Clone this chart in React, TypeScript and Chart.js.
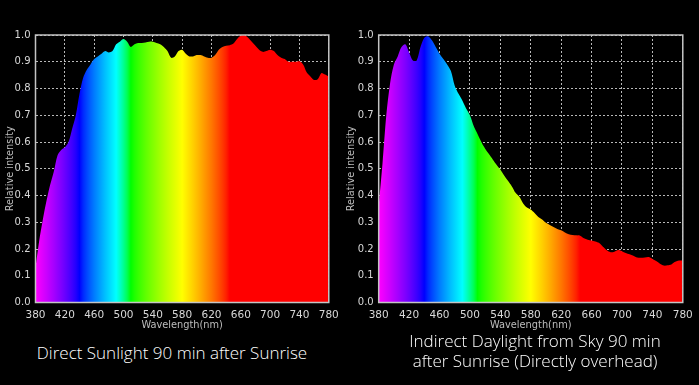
import React, { useEffect, useRef } from "react";
import { Chart, registerables } from "chart.js";

Chart.register(...registerables);

const wavelengths = [
  380, 385, 390, 395, 400, 405, 410, 415, 420, 425, 430, 435, 440, 445, 450, 455, 460, 465, 470, 475,
  480, 485, 490, 495, 500, 505, 510, 515, 520, 525, 530, 535, 540, 545, 550, 555, 560, 565, 570, 575,
  580, 585, 590, 595, 600, 605, 610, 615, 620, 625, 630, 635, 640, 645, 650, 655, 660, 665, 670, 675,
  680, 685, 690, 695, 700, 705, 710, 715, 720, 725, 730, 735, 740, 745, 750, 755, 760, 765, 770, 775, 780,
];

const directSunlight = [
  0.13, 0.23, 0.31, 0.38, 0.44, 0.49, 0.55, 0.57, 0.58, 0.6, 0.65, 0.7, 0.78, 0.84, 0.87, 0.89, 0.91, 0.92, 0.93, 0.94,
  0.935, 0.94, 0.965, 0.975, 0.985, 0.975, 0.955, 0.965, 0.97, 0.97, 0.972, 0.975, 0.975, 0.97, 0.965, 0.955, 0.94, 0.915, 0.92, 0.94,
  0.945, 0.93, 0.92, 0.92, 0.925, 0.925, 0.92, 0.915, 0.915, 0.925, 0.945, 0.955, 0.96, 0.962, 0.968, 0.985, 0.998, 1.0, 0.99, 0.975,
  0.96, 0.945, 0.937, 0.94, 0.945, 0.94, 0.925, 0.915, 0.91, 0.9, 0.9, 0.9, 0.902, 0.89, 0.86, 0.845, 0.832, 0.835, 0.858, 0.852, 0.845,
];

const indirectSky = [
  0.36, 0.52, 0.7, 0.82, 0.89, 0.92, 0.955, 0.965, 0.935, 0.905, 0.905, 0.955, 0.99, 0.995, 0.98, 0.955, 0.93, 0.91, 0.89, 0.865,
  0.81, 0.78, 0.755, 0.725, 0.7, 0.66, 0.63, 0.6, 0.575, 0.555, 0.535, 0.515, 0.497, 0.475, 0.455, 0.435, 0.41, 0.395, 0.37, 0.355,
  0.348, 0.335, 0.32, 0.31, 0.298, 0.29, 0.282, 0.275, 0.27, 0.262, 0.255, 0.252, 0.251, 0.25, 0.24, 0.235, 0.232, 0.228, 0.222, 0.208,
  0.195, 0.188, 0.19, 0.196, 0.192, 0.185, 0.18, 0.175, 0.168, 0.167, 0.168, 0.17, 0.163, 0.155, 0.145, 0.138, 0.139, 0.142, 0.152, 0.157, 0.157,
];

const xTicks = [380, 420, 460, 500, 540, 580, 620, 660, 700, 740, 780];
const yTicks = [0, 0.1, 0.2, 0.3, 0.4, 0.5, 0.6, 0.7, 0.8, 0.9, 1.0];

const captionLeft = ["Direct Sunlight 90 min after Sunrise"];
const captionRight = ["Indirect Daylight from Sky 90 min", "after Sunrise (Directly overhead)"];

const AXIS_FONT = "'DejaVu Sans', Verdana, sans-serif";

function wlColor(w: number): string {
  let r = 0, g = 0, b = 0;
  if (w < 440) { r = (440 - w) / 60; g = 0; b = 1; }
  else if (w < 490) { r = 0; g = (w - 440) / 50; b = 1; }
  else if (w < 510) { r = 0; g = 1; b = (510 - w) / 20; }
  else if (w < 580) { r = (w - 510) / 70; g = 1; b = 0; }
  else if (w < 645) { r = 1; g = (645 - w) / 65; b = 0; }
  else { r = 1; g = 0; b = 0; }
  const f = (v: number) => Math.round(255 * Math.pow(v, 0.8));
  return `rgb(${f(r)},${f(g)},${f(b)})`;
}

const framePlugin = {
  id: "frame",
  afterDatasetsDraw(chart: any) {
    const { ctx, chartArea } = chart;
    ctx.save();
    ctx.strokeStyle = "#c4c4c4";
    ctx.lineWidth = 1.5;
    ctx.strokeRect(chartArea.left, chartArea.top, chartArea.right - chartArea.left, chartArea.bottom - chartArea.top);
    ctx.restore();
  },
};

type PanelProps = {
  values: number[];
  width: number;
  height: number;
  yAxisWidth: number;
  padRight: number;
  yTitlePad: number;
};

function SpectrumChart({ values, width, height, yAxisWidth, padRight, yTitlePad }: PanelProps) {
  const ref = useRef<HTMLCanvasElement | null>(null);
  useEffect(() => {
    if (!ref.current) return;
    const plotBottom = 302.5;
    const chart = new Chart(ref.current, {
      type: "line",
      data: {
        datasets: [
          {
            data: wavelengths.map((w, i) => ({ x: w, y: values[i] })),
            fill: "origin",
            borderColor: "rgba(0,0,0,0)",
            borderWidth: 0,
            pointRadius: 0,
            tension: 0.3,
            backgroundColor: (c: any) => {
              const area = c.chart.chartArea;
              if (!area) return "#f00";
              const g = c.chart.ctx.createLinearGradient(area.left, 0, area.right, 0);
              for (let w = 380; w <= 780; w += 5) {
                g.addColorStop((w - 380) / 400, wlColor(w));
              }
              return g;
            },
          },
        ],
      },
      options: {
        responsive: false,
        animation: false,
        devicePixelRatio: 1,
        layout: { padding: { top: 35, right: padRight, left: 0, bottom: 0 } },
        plugins: { legend: { display: false }, tooltip: { enabled: false } },
        scales: {
          x: {
            type: "linear",
            min: 380,
            max: 780,
            afterBuildTicks: (s: any) => { s.ticks = xTicks.map((v) => ({ value: v })); },
            afterFit: (s: any) => { s.height = height - plotBottom; },
            ticks: {
              color: "#d8d8d8",
              font: { family: AXIS_FONT, size: 10.5 },
              padding: 6.2,
              maxRotation: 0,
              autoSkip: false,
            },
            grid: { color: "#b8b8b8", drawTicks: false, lineWidth: 1 },
            border: { display: false, dash: [2, 2] },
            title: {
              display: true,
              text: "Wavelength(nm)",
              color: "#bdbdbd",
              font: { family: AXIS_FONT, size: 9.8 },
              padding: { top: 0, bottom: 3.6 },
            },
          },
          y: {
            type: "linear",
            min: 0,
            max: 1,
            afterBuildTicks: (s: any) => { s.ticks = yTicks.map((v) => ({ value: v })); },
            afterFit: (s: any) => { s.width = yAxisWidth; },
            ticks: {
              color: "#d8d8d8",
              font: { family: AXIS_FONT, size: 10 },
              padding: 5,
              callback: (v: any) => Number(v).toFixed(1),
            },
            grid: { color: "#b8b8b8", drawTicks: false, lineWidth: 1 },
            border: { display: false, dash: [2, 2] },
            title: {
              display: true,
              text: "Relative intensity",
              color: "#bdbdbd",
              font: { family: AXIS_FONT, size: 9.8 },
              padding: { top: yTitlePad, bottom: 0 },
            },
          },
        },
      },
      plugins: [framePlugin],
    } as any);
    return () => chart.destroy();
  }, [values, width, height, yAxisWidth, padRight, yTitlePad]);
  return <canvas ref={ref} width={width} height={height} style={{ display: "block", width, height }} />;
}

const captionStyle: React.CSSProperties = {
  position: "absolute",
  color: "#ffffff",
  fontFamily: "'Open Sans', 'Noto Sans', sans-serif",
  fontWeight: 300,
  fontSize: 17,
  lineHeight: "20px",
  textAlign: "center",
  whiteSpace: "nowrap",
};

export default function App() {
  return (
    <div style={{ position: "fixed", left: 0, top: 0, width: 699, height: 385, background: "#000", overflow: "hidden" }}>
      <div style={{ position: "absolute", left: 0, top: 0 }}>
        <SpectrumChart values={directSunlight} width={345} height={335} yAxisWidth={35.5} padRight={14.5} yTitlePad={4.1} />
      </div>
      <div style={{ position: "absolute", left: 340, top: 0 }}>
        <SpectrumChart values={indirectSky} width={359} height={335} yAxisWidth={38.7} padRight={11.3} yTitlePad={5.1} />
      </div>
      <div style={{ ...captionStyle, left: 22, width: 300, top: 343 }}>
        {captionLeft.map((t) => <div key={t}>{t}</div>)}
      </div>
      <div style={{ ...captionStyle, left: 385, width: 300, top: 331 }}>
        {captionRight.map((t) => <div key={t}>{t}</div>)}
      </div>
    </div>
  );
}
